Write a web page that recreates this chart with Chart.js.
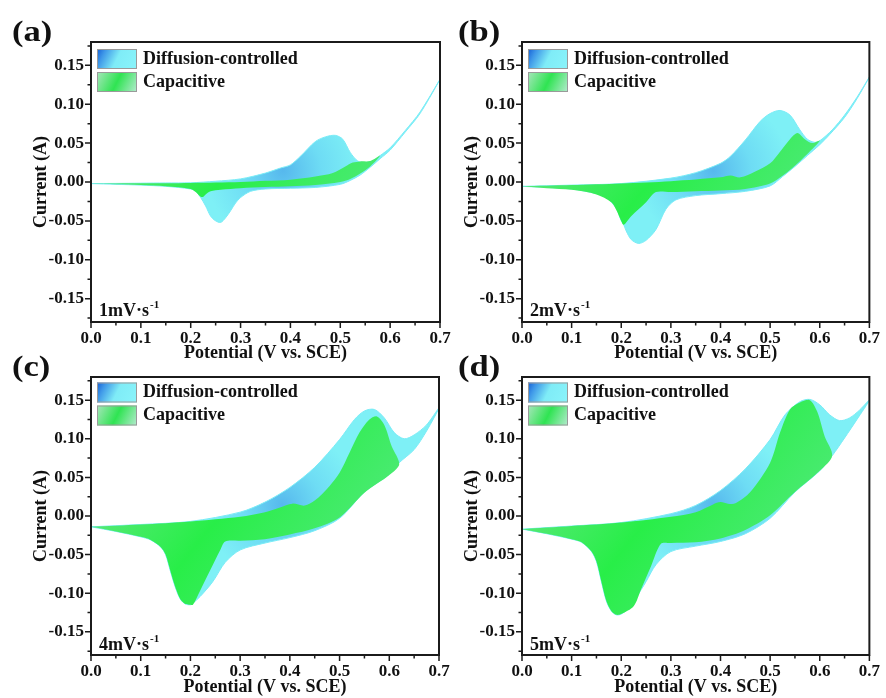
<!DOCTYPE html>
<html>
<head>
<meta charset="utf-8">
<title>CV capacitive contribution</title>
<script src="https://cdn.jsdelivr.net/npm/chart.js"></script>
<style>
    body { margin: 0; background: #fff; }
    #wrap { position: relative; width: 886px; height: 698px; }
    #wrap canvas { position: absolute; left: 0; top: 0; }
</style>
</head>
<body>
<div id="wrap">
    <canvas id="cA" width="886" height="698"></canvas>
    <canvas id="cB" width="886" height="698"></canvas>
    <canvas id="cC" width="886" height="698"></canvas>
    <canvas id="cD" width="886" height="698"></canvas>
</div>
<script>
// 数据：电位 (V) / 电流 (A)，每个闭合曲线 = 正扫分支 + 回扫分支
// (a) 1 mV/s 总电流
const potTotalA = [0, 0.05, 0.1, 0.15, 0.2, 0.25, 0.3, 0.35, 0.38, 0.4, 0.42, 0.45, 0.47, 0.49, 0.505, 0.52, 0.535, 0.55, 0.565, 0.58, 0.6, 0.63, 0.66, 0.7,
    0.66, 0.63, 0.6, 0.58, 0.56, 0.54, 0.52, 0.5, 0.45, 0.4, 0.35, 0.32, 0.3, 0.29, 0.28, 0.27, 0.26, 0.25, 0.24, 0.23, 0.22, 0.21, 0.2, 0.15, 0.1, 0.05, 0];
const curTotalA = [-0.002, -0.0018, -0.0015, -0.0012, -0.001, 0.001, 0.004, 0.0115, 0.018, 0.022, 0.033, 0.052, 0.058, 0.06, 0.055, 0.038, 0.027, 0.025, 0.027, 0.034, 0.044, 0.066, 0.09, 0.132,
    0.088, 0.064, 0.041, 0.03, 0.019, 0.009, 0.002, -0.003, -0.007, -0.008, -0.009, -0.012, -0.02, -0.027, -0.037, -0.046, -0.052, -0.05, -0.044, -0.031, -0.02, -0.012, -0.009, -0.0056, -0.004, -0.003, -0.002];
// (a) 电容贡献
const potCapA = [0, 0.1, 0.2, 0.3, 0.35, 0.4, 0.45, 0.485, 0.51, 0.525, 0.54, 0.56, 0.58,
    0.56, 0.54, 0.52, 0.5, 0.45, 0.4, 0.35, 0.3, 0.26, 0.24, 0.23, 0.225, 0.22, 0.21, 0.2, 0.15, 0.1, 0.05, 0];
const curCapA = [-0.002, -0.0017, -0.0012, 0.0, 0.0015, 0.003, 0.007, 0.0115, 0.02, 0.025, 0.0265, 0.027, 0.034,
    0.02, 0.011, 0.004, 0.0, -0.004, -0.0055, -0.0065, -0.008, -0.01, -0.012, -0.016, -0.019, -0.019, -0.013, -0.009, -0.0056, -0.004, -0.003, -0.002];

// (b) 2 mV/s
const potTotalB = [0, 0.1, 0.2, 0.3, 0.35, 0.4, 0.42, 0.45, 0.48, 0.5, 0.52, 0.54, 0.56, 0.575, 0.59, 0.6, 0.625, 0.65, 0.675, 0.7,
    0.675, 0.65, 0.62, 0.6, 0.575, 0.55, 0.525, 0.5, 0.45, 0.4, 0.35, 0.31, 0.29, 0.27, 0.25, 0.235, 0.22, 0.21, 0.205, 0.2, 0.19, 0.17, 0.15, 0.1, 0.05, 0];
const curTotalB = [-0.0056, -0.004, -0.002, 0.005, 0.012, 0.024, 0.033, 0.054, 0.078, 0.088, 0.092, 0.086, 0.067, 0.055, 0.051, 0.053, 0.067, 0.086, 0.109, 0.135,
    0.107, 0.083, 0.061, 0.048, 0.034, 0.02, 0.007, -0.005, -0.012, -0.015, -0.0175, -0.023, -0.035, -0.061, -0.075, -0.079, -0.074, -0.063, -0.055, -0.05, -0.034, -0.02, -0.015, -0.009, -0.007, -0.0056];
const potCapB = [0, 0.1, 0.2, 0.3, 0.4, 0.42, 0.44, 0.47, 0.5, 0.52, 0.54, 0.555, 0.57, 0.585, 0.6,
    0.575, 0.55, 0.525, 0.5, 0.45, 0.4, 0.35, 0.3, 0.27, 0.25, 0.22, 0.205, 0.2, 0.19, 0.18, 0.15, 0.1, 0.05, 0];
const curCapB = [-0.0056, -0.004, -0.002, 0.001, 0.006, 0.0085, 0.006, 0.0135, 0.024, 0.039, 0.055, 0.063, 0.055, 0.05, 0.053,
    0.036, 0.021, 0.008, -0.002, -0.009, -0.011, -0.012, -0.013, -0.013, -0.026, -0.044, -0.055, -0.05, -0.036, -0.026, -0.016, -0.01, -0.008, -0.0056];

// (c) 4 mV/s
const potTotalC = [0, 0.1, 0.2, 0.3, 0.35, 0.4, 0.45, 0.5, 0.53, 0.55, 0.57, 0.59, 0.61, 0.63, 0.65, 0.675, 0.7,
    0.675, 0.65, 0.62, 0.6, 0.55, 0.5, 0.45, 0.4, 0.35, 0.3, 0.27, 0.245, 0.22, 0.205, 0.2, 0.19, 0.18, 0.17, 0.16, 0.15, 0.14, 0.12, 0.1, 0.05, 0];
const curTotalC = [-0.014, -0.011, -0.007, 0.005, 0.018, 0.037, 0.063, 0.099, 0.125, 0.136, 0.138, 0.127, 0.108, 0.1, 0.105, 0.118, 0.14,
    0.11, 0.086, 0.069, 0.054, 0.031, -0.003, -0.019, -0.028, -0.035, -0.044, -0.06, -0.085, -0.104, -0.113, -0.115, -0.114, -0.108, -0.093, -0.072, -0.05, -0.04, -0.031, -0.027, -0.02, -0.014];
const potCapC = [0, 0.1, 0.2, 0.3, 0.35, 0.38, 0.405, 0.43, 0.45, 0.48, 0.5, 0.52, 0.54, 0.56, 0.575, 0.59, 0.605, 0.62,
    0.6, 0.55, 0.5, 0.45, 0.4, 0.35, 0.3, 0.27, 0.26, 0.24, 0.22, 0.205, 0.2, 0.19, 0.18, 0.17, 0.16, 0.15, 0.14, 0.12, 0.1, 0.05, 0];
const curCapC = [-0.014, -0.011, -0.007, -0.001, 0.005, 0.011, 0.016, 0.0135, 0.02, 0.039, 0.056, 0.082, 0.108, 0.125, 0.129, 0.118, 0.09, 0.067,
    0.053, 0.03, -0.002, -0.016, -0.024, -0.03, -0.032, -0.033, -0.044, -0.07, -0.096, -0.115, -0.115, -0.114, -0.108, -0.093, -0.072, -0.05, -0.04, -0.031, -0.027, -0.02, -0.014];

// (d) 5 mV/s
const potTotalD = [0, 0.1, 0.2, 0.3, 0.35, 0.4, 0.45, 0.5, 0.53, 0.56, 0.58, 0.6, 0.62, 0.64, 0.66, 0.68, 0.7,
    0.675, 0.65, 0.625, 0.6, 0.55, 0.5, 0.45, 0.4, 0.35, 0.3, 0.27, 0.25, 0.23, 0.22, 0.2, 0.19, 0.18, 0.17, 0.16, 0.15, 0.14, 0.12, 0.1, 0.05, 0];
const curTotalD = [-0.017, -0.013, -0.0085, 0.003, 0.0137, 0.033, 0.061, 0.099, 0.131, 0.148, 0.151, 0.144, 0.131, 0.1235, 0.127, 0.137, 0.15,
    0.125, 0.101, 0.078, 0.0585, 0.031, -0.003, -0.023, -0.033, -0.039, -0.046, -0.063, -0.085, -0.106, -0.117, -0.127, -0.128, -0.123, -0.11, -0.085, -0.059, -0.046, -0.034, -0.03, -0.023, -0.017];
const potCapD = [0, 0.1, 0.2, 0.3, 0.35, 0.385, 0.4, 0.415, 0.43, 0.46, 0.5, 0.52, 0.54, 0.56, 0.58, 0.595, 0.61, 0.625,
    0.6, 0.55, 0.5, 0.45, 0.4, 0.35, 0.3, 0.28, 0.26, 0.24, 0.225, 0.2, 0.19, 0.18, 0.17, 0.16, 0.15, 0.14, 0.12, 0.1, 0.05, 0];
const curCapD = [-0.017, -0.013, -0.0085, -0.001, 0.005, 0.015, 0.018, 0.016, 0.0165, 0.031, 0.069, 0.108, 0.138, 0.147, 0.15, 0.135, 0.103, 0.078,
    0.0585, 0.031, 0.001, -0.018, -0.029, -0.034, -0.035, -0.036, -0.065, -0.095, -0.117, -0.127, -0.128, -0.123, -0.11, -0.085, -0.059, -0.046, -0.034, -0.03, -0.023, -0.017];

const panelTags = ['(a)', '(b)', '(c)', '(d)'];
const scanRates = ['1', '2', '4', '5'];
const seriesNames = ['Diffusion-controlled', 'Capacitive'];

const SERIF = '"Liberation Serif", "Times New Roman", serif';

// 把电位和电流数组组合成点
function toPoints(pot, cur) {
    return pot.map((v, k) => ({ x: v, y: cur[k] }));
}

function isMajorX(v) {
    return Math.round(v * 100) % 10 === 0;
}

function isMajorY(v) {
    return Math.abs(Math.round(v * 1000) % 50) === 0;
}

// 扩散部分填充（青色，中间略偏蓝）
function cyanFill(context) {
    const chart = context.chart;
    const a = chart.chartArea;
    if (!a) return 'rgb(126,240,246)';
    const w = a.right - a.left;
    const cx = a.left + w * 0.55;
    const cy = a.top + (a.bottom - a.top) * 0.46;
    const g = chart.ctx.createRadialGradient(cx, cy, 0, cx, cy, w * 0.22);
    g.addColorStop(0, 'rgb(86,184,237)');
    g.addColorStop(0.5, 'rgb(110,220,244)');
    g.addColorStop(1, 'rgb(126,240,246)');
    return g;
}

// 电容部分填充（绿色渐变）
function greenFill(context) {
    const chart = context.chart;
    const a = chart.chartArea;
    if (!a) return 'rgb(50,234,80)';
    const g = chart.ctx.createLinearGradient(a.left, a.top, a.right, a.bottom);
    g.addColorStop(0, 'rgb(128,228,160)');
    g.addColorStop(0.42, 'rgb(40,238,72)');
    g.addColorStop(0.7, 'rgb(76,234,116)');
    g.addColorStop(1, 'rgb(120,228,158)');
    return g;
}

// 边框、刻度、图例、扫速和面板标记
const decor = {
    id: 'decor',
    afterDatasetsDraw(chart, args, o) {
        const { ctx, chartArea: a, scales } = chart;
        ctx.save();

        ctx.strokeStyle = '#1b1b1b';
        ctx.lineWidth = 2;
        ctx.strokeRect(a.left, a.top, a.right - a.left, a.bottom - a.top);

        ctx.lineWidth = 1.5;
        ctx.beginPath();
        scales.x.ticks.forEach((t, i) => {
            const px = scales.x.getPixelForTick(i);
            const len = isMajorX(t.value) ? 6 : 3.5;
            ctx.moveTo(px, a.bottom);
            ctx.lineTo(px, a.bottom + len);
        });
        scales.y.ticks.forEach((t, i) => {
            const py = scales.y.getPixelForTick(i);
            const len = isMajorY(t.value) ? 6 : 3.5;
            ctx.moveTo(a.left, py);
            ctx.lineTo(a.left - len, py);
        });
        ctx.stroke();

        // 图例
        const lx = a.left + 6;
        const ly = a.top + o.legendDy;
        let g = ctx.createLinearGradient(lx, ly, lx + 40, ly + 20);
        g.addColorStop(0, '#1560d6');
        g.addColorStop(0.18, '#3f98e8');
        g.addColorStop(0.5, '#7fecf7');
        g.addColorStop(1, '#8af4fa');
        ctx.fillStyle = g;
        ctx.fillRect(lx, ly, 40, 20);
        g = ctx.createLinearGradient(lx, ly + 23, lx + 40, ly + 43);
        g.addColorStop(0, '#a8e6bc');
        g.addColorStop(0.5, '#2fe452');
        g.addColorStop(1, '#b6ead0');
        ctx.fillStyle = g;
        ctx.fillRect(lx, ly + 23, 40, 20);
        ctx.strokeStyle = '#9a9a9a';
        ctx.lineWidth = 1;
        ctx.strokeRect(lx + 0.5, ly + 0.5, 39, 19);
        ctx.strokeRect(lx + 0.5, ly + 23.5, 39, 19);

        ctx.fillStyle = '#111';
        ctx.font = `bold 18px ${SERIF}`;
        ctx.textAlign = 'left';
        ctx.textBaseline = 'middle';
        ctx.fillText(seriesNames[0], lx + 46, ly + 10);
        ctx.fillText(seriesNames[1], lx + 46, ly + 33);

        // 扫速
        ctx.textBaseline = 'alphabetic';
        const rate = `${o.rate}mV·s`;
        const rx = a.left + 8;
        const ry = a.bottom - o.rateDy;
        ctx.fillText(rate, rx, ry);
        const rw = ctx.measureText(rate).width;
        ctx.font = `bold 11px ${SERIF}`;
        ctx.fillText('-1', rx + rw + 1, ry - 8);

        // 面板标记
        ctx.font = `bold 30px ${SERIF}`;
        ctx.textBaseline = 'middle';
        ctx.translate(o.tagX, a.top - 9);
        ctx.scale(1.15, 1);
        ctx.fillText(o.tag, 0, 0);

        ctx.restore();
    }
};

const panels = [
    { id: 'cA', pot: [potTotalA, potCapA], cur: [curTotalA, curCapA], pad: { left: 0, top: 42, right: 446, bottom: 334 }, xH: 42, tagX: 12, legendDy: 7, rateDy: 6 },
    { id: 'cB', pot: [potTotalB, potCapB], cur: [curTotalB, curCapB], pad: { left: 431, top: 42, right: 15, bottom: 334 }, xH: 42, tagX: 458, legendDy: 7, rateDy: 6 },
    { id: 'cC', pot: [potTotalC, potCapC], cur: [curTotalC, curCapC], pad: { left: 0, top: 377, right: 447, bottom: 0 }, xH: 43, tagX: 12, legendDy: 5.5, rateDy: 5 },
    { id: 'cD', pot: [potTotalD, potCapD], cur: [curTotalD, curCapD], pad: { left: 431, top: 377, right: 15, bottom: 0 }, xH: 43, tagX: 458, legendDy: 5.5, rateDy: 5 }
];

function makePanel(p, k) {
    const tickFont = { family: SERIF, size: 17, weight: 'bold' };
    const titleFont = { family: SERIF, size: 18, weight: 'bold' };
    return new Chart(document.getElementById(p.id), {
        type: 'scatter',
        data: {
            datasets: [{
                label: seriesNames[0],
                data: toPoints(p.pot[0], p.cur[0]),
                showLine: true,
                fill: 'shape',
                order: 2,
                backgroundColor: cyanFill,
                borderColor: 'rgb(122,236,246)',
                borderWidth: 1,
                pointRadius: 0,
                tension: 0.3
            }, {
                label: seriesNames[1],
                data: toPoints(p.pot[1], p.cur[1]),
                showLine: true,
                fill: 'shape',
                order: 1,
                backgroundColor: greenFill,
                borderWidth: 0,
                pointRadius: 0,
                tension: 0.3
            }]
        },
        options: {
            responsive: false,
            animation: false,
            events: [],
            layout: { padding: p.pad },
            plugins: {
                legend: { display: false },
                tooltip: { enabled: false },
                decor: { tag: panelTags[k], rate: scanRates[k], tagX: p.tagX, legendDy: p.legendDy, rateDy: p.rateDy }
            },
            scales: {
                x: {
                    type: 'linear',
                    min: 0,
                    max: 0.7,
                    border: { display: false },
                    grid: { display: false, drawTicks: false },
                    ticks: {
                        stepSize: 0.05,
                        includeBounds: false,
                        autoSkip: false,
                        maxRotation: 0,
                        minRotation: 0,
                        padding: 6,
                        color: '#111',
                        font: tickFont,
                        callback: v => isMajorX(v) ? v.toFixed(1) : ''
                    },
                    title: { display: true, text: 'Potential (V vs. SCE)', color: '#111', font: titleFont, padding: 0 },
                    afterFit: s => { s.height = p.xH; }
                },
                y: {
                    type: 'linear',
                    min: -0.18,
                    max: 0.18,
                    border: { display: false },
                    grid: { display: false, drawTicks: false },
                    ticks: {
                        stepSize: 0.025,
                        includeBounds: false,
                        autoSkip: false,
                        padding: 7,
                        color: '#111',
                        font: tickFont,
                        callback: v => isMajorY(v) ? (Math.round(v * 100) / 100).toFixed(2) : ''
                    },
                    title: { display: true, text: 'Current (A)', color: '#111', font: titleFont, padding: { top: 31, bottom: 0 } },
                    afterFit: s => { s.width = 91; }
                }
            }
        },
        plugins: [decor]
    });
}

panels.forEach((p, k) => makePanel(p, k));
</script>
</body>
</html>
